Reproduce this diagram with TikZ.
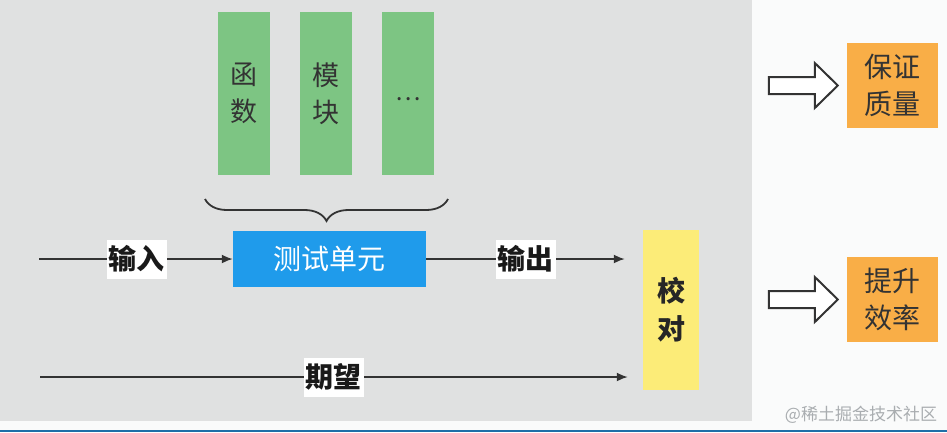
\documentclass[tikz,border=0pt]{standalone}
\usepackage{fontspec}
\newfontfamily\cjk{Noto Sans CJK SC}
\usetikzlibrary{arrows.meta,decorations.pathreplacing,calc}
\definecolor{bggray}{HTML}{E0E1E1}
\definecolor{bgwhite}{HTML}{FAFBFB}
\definecolor{boxgreen}{HTML}{7DC583}
\definecolor{boxblue}{HTML}{1F9BEB}
\definecolor{boxyellow}{HTML}{FCEC78}
\definecolor{boxorange}{HTML}{F9AE47}
\definecolor{linegray}{HTML}{333333}
\definecolor{stripblue}{HTML}{1E6FA8}
\definecolor{wmgray}{HTML}{A9ADB0}
\begin{document}
\begin{tikzpicture}[x=1pt,y=-1pt,
  every node/.style={font=\cjk},
  greenbox/.style={fill=boxgreen,minimum width=52pt,minimum height=163pt,inner sep=0pt,
    align=center,font=\cjk\fontsize{27}{37}\selectfont,text=black!80},
  bluebox/.style={fill=boxblue,minimum width=193pt,minimum height=56pt,inner sep=0pt,
    font=\cjk\fontsize{28}{34}\selectfont,text=white},
  yellowbox/.style={fill=boxyellow,minimum width=56pt,minimum height=160pt,inner sep=0pt,
    align=center,font=\cjk\bfseries\fontsize{28}{38}\selectfont,text=black!85},
  orangebox/.style={fill=boxorange,minimum width=91pt,minimum height=85pt,inner sep=0pt,
    align=center,font=\cjk\fontsize{28}{37}\selectfont,text=black!80},
  lbl/.style={fill=white,inner sep=2pt,minimum height=39pt,font=\cjk\bfseries\fontsize{28}{34}\selectfont,text=black!90},
  conn/.style={draw=linegray,line width=1.8pt},
  arr/.style={conn,-{Latex[length=11pt,width=9pt]}},
  hollow/.style={draw=linegray,line width=2pt,fill=white,line join=miter}
]
\useasboundingbox (0,0) rectangle (947,432);
% backgrounds
\fill[bgwhite] (0,0) rectangle (947,432);
\fill[bggray] (0,0) rectangle (752,421);
\fill[stripblue] (0,429.5) rectangle (947,432);

% green boxes
\node[greenbox] (g1) at (244,93.5) {函\\数};
\node[greenbox] (g2) at (326,93.5) {模\\块};
\node[greenbox] (g3) at (408,93.5) {\raisebox{-14pt}{\fontsize{24}{24}\selectfont …}};

% brace
\coordinate (bl) at (205,199);
\coordinate (br) at (448,199);
\draw[linegray,line width=1.8pt,decorate,decoration={brace,mirror,amplitude=22pt}] (bl) -- (br);

% unit
\node[bluebox] (unit) at (329.5,259) {测试单元};

% check
\node[yellowbox] (check) at (671,310) {校\\对};

% results
\node[orangebox] (q) at (892.5,85.5) {保证\\质量};
\node[orangebox] (e) at (892.5,299.5) {提升\\效率};

% input
\coordinate (inS) at (39,259);
\draw[arr] (inS) -- node[lbl,pos=0.505] (inL) {输入} (unit.west);

% output
\draw[arr,shorten >=18pt] (unit.east) -- node[lbl,pos=0.46] (outL) {输出} (unit.east -| check.west);

% expect
\coordinate (exS) at (40,377);
\draw[arr,shorten >=15pt] (exS) -- node[lbl,pos=0.487] (exL) {期望} (exS -| check.west);

% hollow arrows
\foreach \t in {q,e}{
  \draw[hollow] ($(\t.west)+(-78,-8.5)$) -- ++(46,0) -- ++(0,-14) -- ++(23,22.5) -- ++(-23,22.5) -- ++(0,-14) -- ++(-46,0) -- cycle;
}

% watermark
\node[text=wmgray,font=\cjk\fontsize{17}{17}\selectfont,inner sep=0pt] (wm) at (861,415) {@稀土掘金技术社区};
\end{tikzpicture}
\end{document}
